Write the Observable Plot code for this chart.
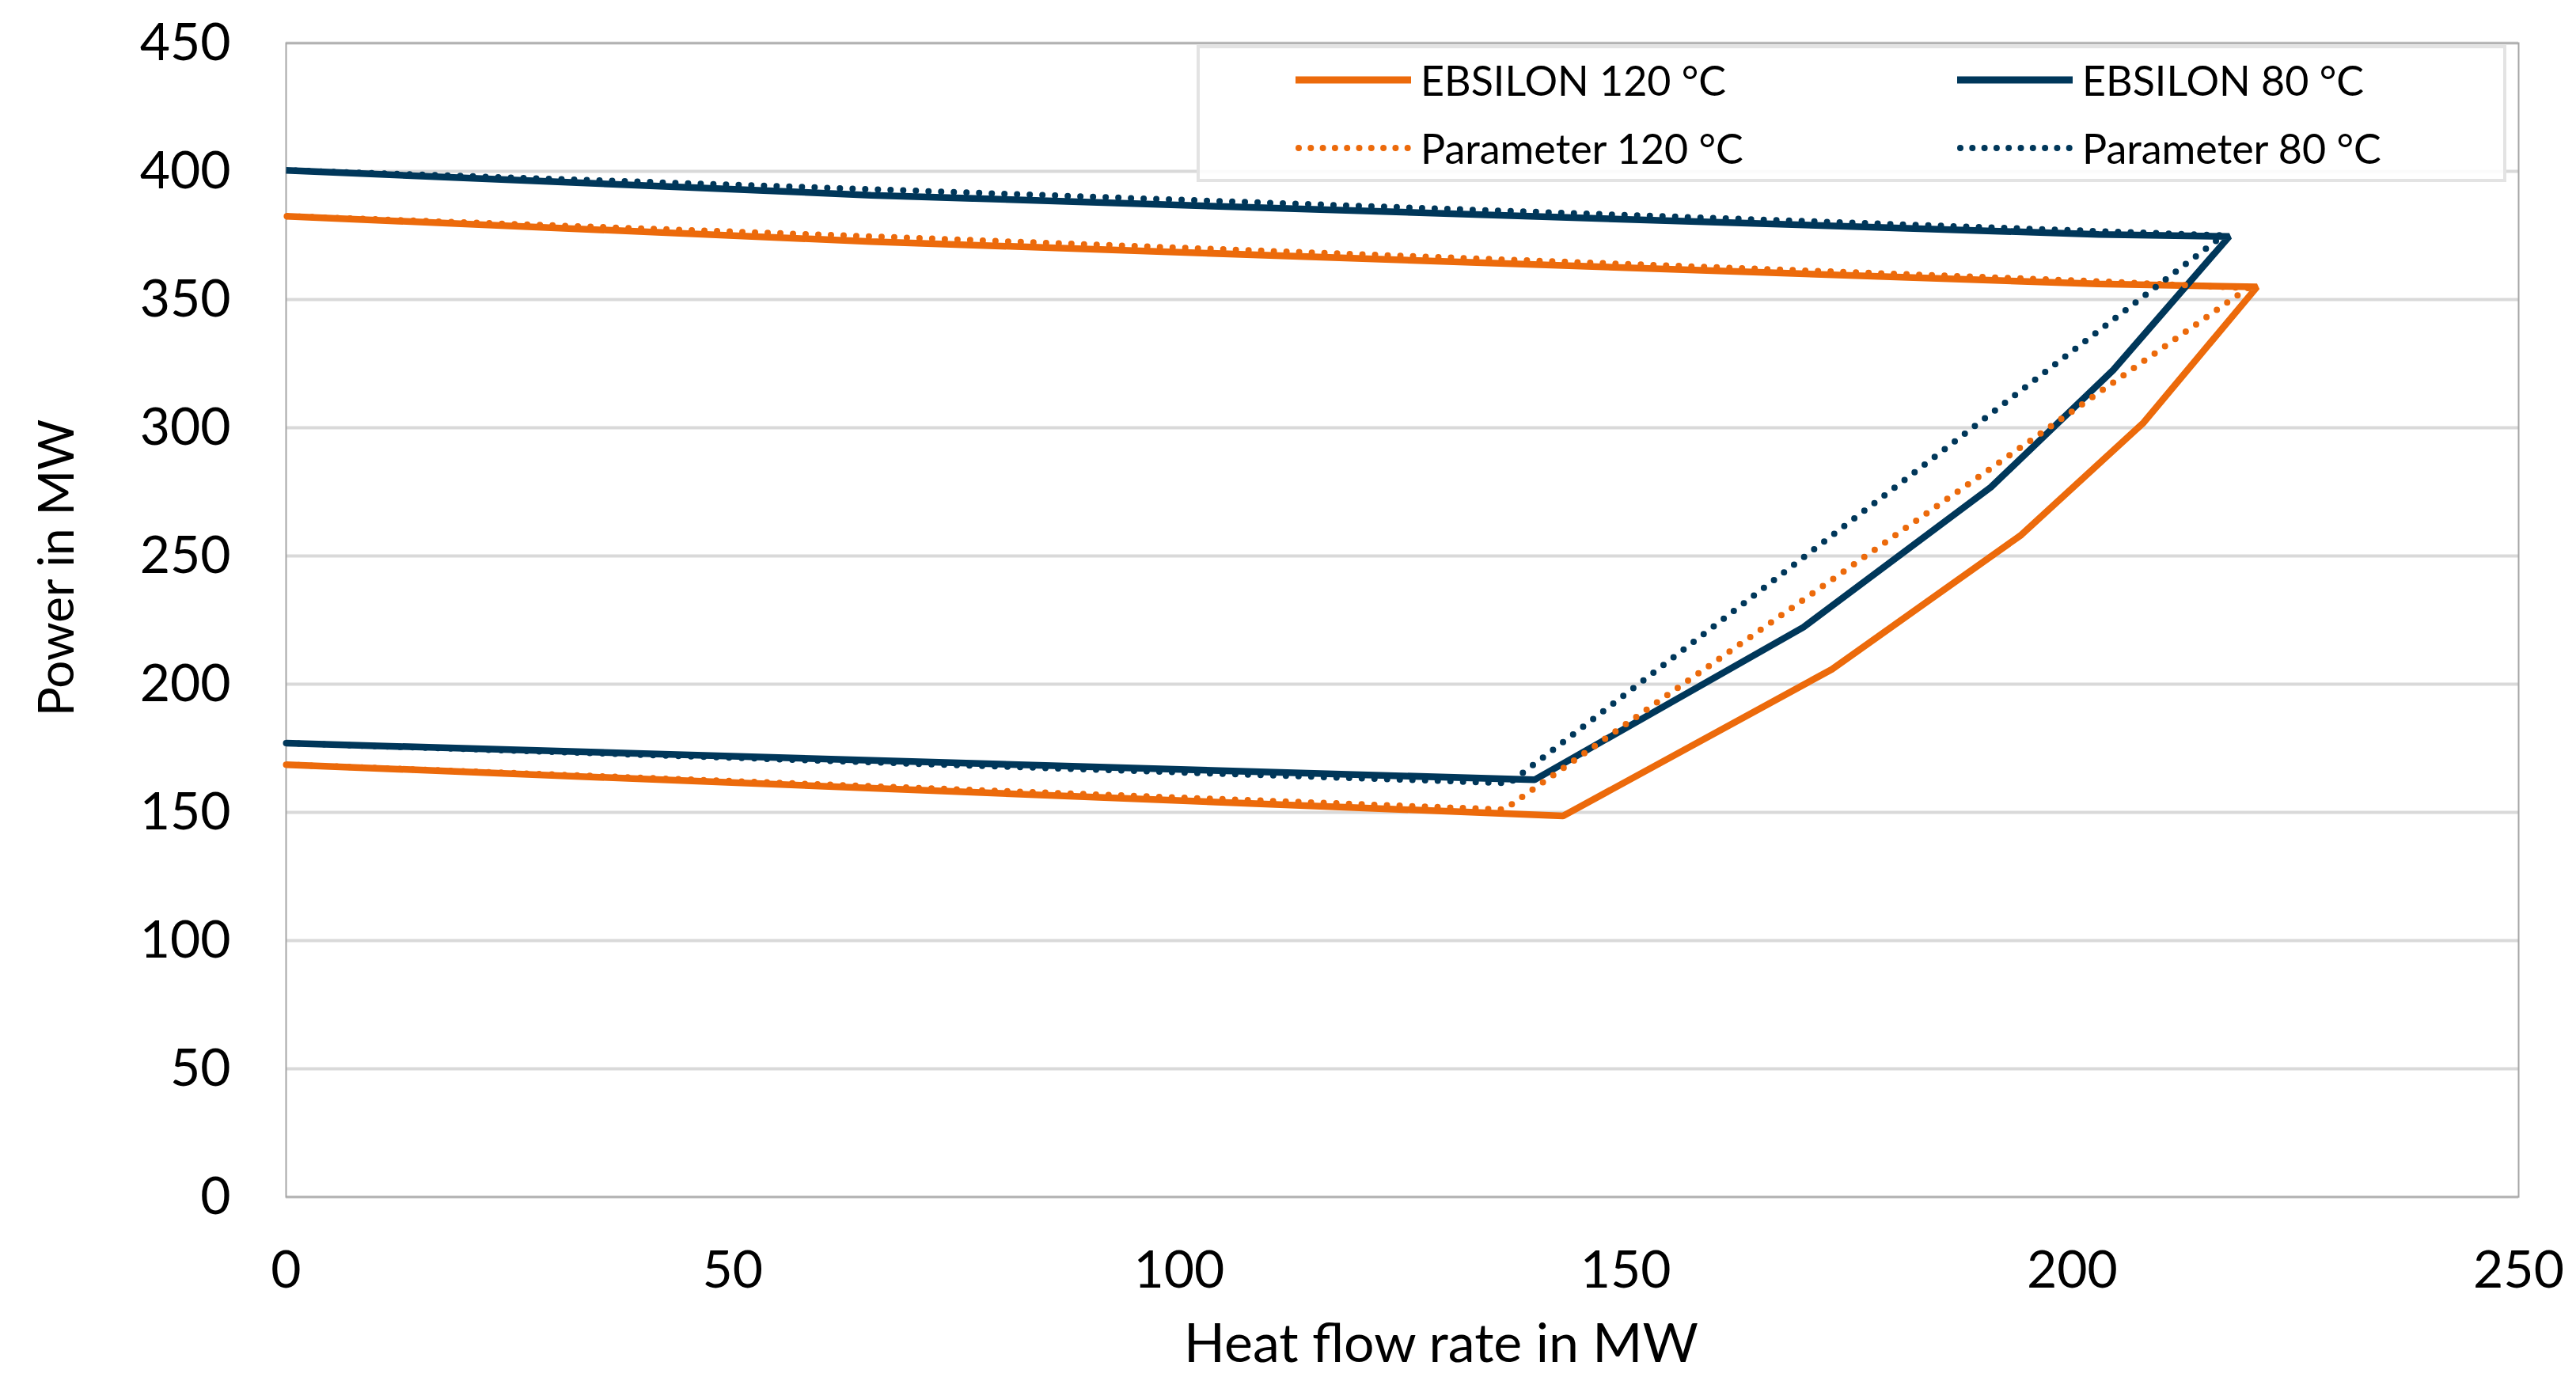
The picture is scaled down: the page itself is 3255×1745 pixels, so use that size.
<!DOCTYPE html>
<html>
<head>
<meta charset="utf-8">
<script src="https://cdn.jsdelivr.net/npm/d3@7"></script>
<script src="https://cdn.jsdelivr.net/npm/@observablehq/plot@0.6"></script>
<style>
  html, body { margin: 0; padding: 0; background: #fff; overflow: hidden; }
  #wrap { position: relative; width: 3255px; height: 1745px; }
  #legend { position: absolute; left: 1512px; top: 57px; width: 1647px; height: 165px;
            border: 4px solid #E3E3E3; background: rgba(255,255,255,0.88);
            font-family: Lato, "Noto Sans", sans-serif; font-size: 52px; color: #000; }
  .entry { position: absolute; height: 60px; display: flex; align-items: center; white-space: nowrap; }
  .entry svg { display: block; margin-right: 12px; }
</style>
</head>
<body>
<div id="wrap">
  <div id="chart"></div>
  <div id="legend"></div>
</div>
<script>
// ---- data ----
const xTicks = [0, 50, 100, 150, 200, 250];
const yTicks = [0, 50, 100, 150, 200, 250, 300, 350, 400, 450];

const seriesNames = ["EBSILON 120 °C", "EBSILON 80 °C", "Parameter 120 °C", "Parameter 80 °C"];
const seriesColors = ["#EC6A0B", "#00375A", "#EC6A0B", "#00375A"];
const seriesDotted = [false, false, true, true];

const ebsilon120Heat  = [0,     143.0, 173.1, 194.3, 208.0, 220.7, 202.9, 65.5,  0];
const ebsilon120Power = [168.6, 148.6, 205.8, 258.2, 302.0, 354.9, 356.1, 372.6, 382.5];

const ebsilon80Heat   = [0,     139.8, 169.9, 190.9, 204.6, 217.6, 203.0, 65.5,  0];
const ebsilon80Power  = [177.0, 162.7, 222.2, 276.8, 322.5, 374.6, 375.4, 390.7, 400.4];

const param120Heat    = [0,     136.4, 219.7, 203.0, 65.5,  0];
const param120Power   = [168.6, 151.1, 354.5, 357.1, 374.6, 382.5];

const param80Heat     = [0,     137.0, 216.9, 65.5,  0];
const param80Power    = [177.0, 161.4, 375.0, 393.0, 400.4];

const heats = [ebsilon120Heat, ebsilon80Heat, param120Heat, param80Heat];
const powers = [ebsilon120Power, ebsilon80Power, param120Power, param80Power];

// ---- build table ----
const rows = [];
seriesNames.forEach((name, i) => {
  heats[i].forEach((h, j) => rows.push({series: name, heat: h, power: powers[i][j], order: j}));
});

const lineMarks = seriesNames.map((name, i) =>
  Plot.line(rows.filter(r => r.series === name), {
    x: "heat", y: "power",
    stroke: seriesColors[i],
    strokeWidth: seriesDotted[i] ? 8 : 8.5,
    strokeDasharray: seriesDotted[i] ? "0 16" : null,
    strokeLinecap: seriesDotted[i] ? "round" : "butt",
    strokeLinejoin: "miter",
    curve: "linear"
  })
);

const chart = Plot.plot({
  width: 3255,
  height: 1745,
  marginLeft: 361,
  marginRight: 73,
  marginTop: 54,
  marginBottom: 233,
  style: {fontFamily: "Lato, 'Noto Sans', sans-serif", fontSize: "66px", color: "#000", background: "#fff"},
  x: {domain: [0, 250], label: null},
  y: {domain: [0, 450], label: null},
  marks: [
    Plot.gridY(yTicks, {stroke: "#D9D9D9", strokeOpacity: 1, strokeWidth: 4}),
    Plot.frame({stroke: "#A6A6A6", strokeWidth: 2}),
    Plot.axisX(xTicks, {tickSize: 0, tickPadding: 68, fontSize: 66, tickFormat: d => String(d)}),
    Plot.axisY(yTicks, {tickSize: 0, tickPadding: 70, fontSize: 66, tickFormat: d => String(d)}),
    ...lineMarks,
    Plot.text(["Power in MW"], {text: d => d, frameAnchor: "left", textAnchor: "middle", lineAnchor: "middle",
      dx: -288, dy: -66, rotate: -90, fontSize: 62, fill: "#000"}),
    Plot.text(["Heat flow rate in MW"], {text: d => d, frameAnchor: "bottom", textAnchor: "middle", lineAnchor: "middle",
      dx: 49, dy: 187, fontSize: 68, fill: "#000"})
  ]
});
document.getElementById("chart").appendChild(chart);

// ---- legend ----
const legend = document.getElementById("legend");
const legendPos = [
  {left: 121, top: 10}, {left: 957, top: 10},
  {left: 121, top: 96}, {left: 957, top: 96}
];
seriesNames.forEach((name, i) => {
  const e = document.createElement("div");
  e.className = "entry";
  e.style.left = legendPos[i].left + "px";
  e.style.top = legendPos[i].top + "px";
  const dotted = seriesDotted[i];
  e.innerHTML = `<svg width="146" height="20"><line x1="${dotted ? 4 : 0}" y1="10" x2="${dotted ? 142 : 146}" y2="10" stroke="${seriesColors[i]}" stroke-width="${dotted ? 8 : 9}" ${dotted ? 'stroke-dasharray="0 15.3" stroke-linecap="round"' : ''}/></svg><span>${name}</span>`;
  legend.appendChild(e);
});
</script>
</body>
</html>
